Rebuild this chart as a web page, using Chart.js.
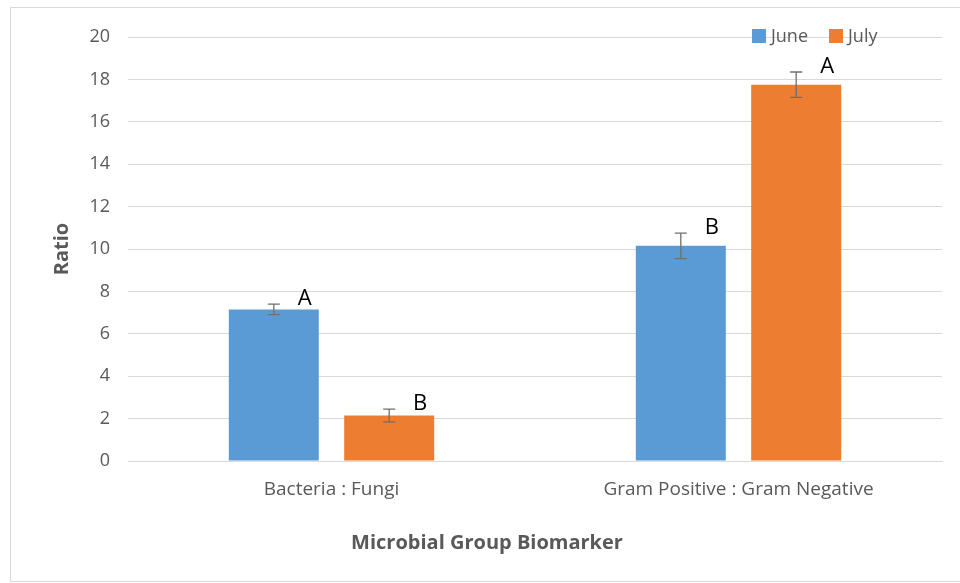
<!DOCTYPE html>
<html>
<head>
<meta charset="utf-8">
<script src="https://cdn.jsdelivr.net/npm/chart.js@4.4.1/dist/chart.umd.min.js"></script>
<style>
html,body{margin:0;padding:0;background:#fff;}
#wrap{width:960px;height:583px;position:relative;}
</style>
</head>
<body>
<div id="wrap"><canvas id="c" width="960" height="583"></canvas></div>
<script>
const categories = ["Bacteria : Fungi", "Gram Positive : Gram Negative"];
const seriesNames = ["June", "July"];
const juneValues = [7.15, 10.15];
const julyValues = [2.15, 17.75];
const juneErrors = [0.25, 0.6];
const julyErrors = [0.3, 0.6];
const juneLetters = ["A", "B"];
const julyLetters = ["B", "A"];
const yTicks = [0, 2, 4, 6, 8, 10, 12, 14, 16, 18, 20];
const xAxisTitle = "Microbial Group Biomarker";
const yAxisTitle = "Ratio";

const FONT = "'Open Sans', 'Noto Sans', sans-serif";
const GREY = "#595959";

const errorBarPlugin = {
  id: "errorBars",
  afterDatasetsDraw(chart) {
    const ctx = chart.ctx;
    const y = chart.scales.y;
    chart.data.datasets.forEach((ds, di) => {
      const meta = chart.getDatasetMeta(di);
      meta.data.forEach((bar, i) => {
        const v = ds.data[i], e = ds.errors[i];
        const yTop = y.getPixelForValue(v + e);
        const yBot = y.getPixelForValue(v - e);
        const x = bar.x;
        ctx.save();
        ctx.strokeStyle = "#6f6f6f";
        ctx.lineWidth = 1.3;
        ctx.beginPath();
        ctx.moveTo(x, yTop); ctx.lineTo(x, yBot);
        ctx.moveTo(x - 6, yTop); ctx.lineTo(x + 6, yTop);
        ctx.moveTo(x - 6, yBot); ctx.lineTo(x + 6, yBot);
        ctx.stroke();
        ctx.fillStyle = "#000";
        ctx.font = "22px " + FONT;
        ctx.textAlign = "center";
        ctx.textBaseline = "alphabetic";
        ctx.fillText(ds.letters[i], x + 31, yTop + 1);
        ctx.restore();
      });
    });
  }
};

const legendPlugin = {
  id: "customLegend",
  afterDraw(chart) {
    const ctx = chart.ctx;
    ctx.save();
    ctx.font = "18px " + FONT;
    ctx.textBaseline = "middle";
    ctx.textAlign = "left";
    let x = 752;
    const yc = 36;
    chart.data.datasets.forEach((ds) => {
      ctx.fillStyle = ds.backgroundColor;
      ctx.fillRect(x, yc - 7, 14, 14);
      ctx.fillStyle = GREY;
      ctx.fillText(ds.label, x + 19, yc + 1);
      x += 19 + ctx.measureText(ds.label).width + 21;
    });
    ctx.restore();
  }
};

const frameAndTitlePlugin = {
  id: "frame",
  beforeDraw(chart) {
    const ctx = chart.ctx;
    ctx.save();
    ctx.fillStyle = "#fff";
    ctx.fillRect(0, 0, chart.width, chart.height);
    ctx.strokeStyle = "#d9d9d9";
    ctx.lineWidth = 1;
    ctx.strokeRect(10.5, 7.5, 960, 574);
    ctx.restore();
  },
  afterDraw(chart) {
    const ctx = chart.ctx;
    ctx.save();
    ctx.fillStyle = GREY;
    ctx.font = "bold 20px " + FONT;
    ctx.textAlign = "center";
    ctx.textBaseline = "middle";
    ctx.fillText(xAxisTitle, 487, 543);
    ctx.restore();
  }
};

new Chart(document.getElementById("c"), {
  type: "bar",
  data: {
    labels: categories,
    datasets: [
      { label: seriesNames[0], data: juneValues, errors: juneErrors, letters: juneLetters,
        backgroundColor: "#5B9BD5", borderWidth: 0,
        categoryPercentage: 0.567, barPercentage: 0.78 },
      { label: seriesNames[1], data: julyValues, errors: julyErrors, letters: julyLetters,
        backgroundColor: "#ED7D31", borderWidth: 0,
        categoryPercentage: 0.567, barPercentage: 0.78 }
    ]
  },
  options: {
    responsive: false,
    animation: false,
    layout: { padding: { left: 10, top: 37, right: 18, bottom: 0 } },
    plugins: { legend: { display: false }, tooltip: { enabled: false } },
    scales: {
      x: {
        grid: { display: false, drawTicks: false },
        border: { display: true, color: "#d9d9d9" },
        ticks: { color: GREY, font: { family: FONT, size: 19 }, padding: 17, maxRotation: 0 },
        afterFit(s) { s.height = 122; }
      },
      y: {
        min: 0, max: 20,
        afterBuildTicks(s) { s.ticks = yTicks.map(v => ({ value: v })); },
        grid: { color: "#d9d9d9", drawTicks: false },
        border: { display: false },
        ticks: { color: GREY, font: { family: FONT, size: 18 }, padding: 18 },
        title: { display: true, text: yAxisTitle, color: GREY,
                 font: { family: FONT, size: 20, weight: "bold" }, padding: { top: 40, bottom: 0 } },
        afterFit(s) { s.width = 118; }
      }
    }
  },
  plugins: [frameAndTitlePlugin, errorBarPlugin, legendPlugin]
});
</script>
</body>
</html>
